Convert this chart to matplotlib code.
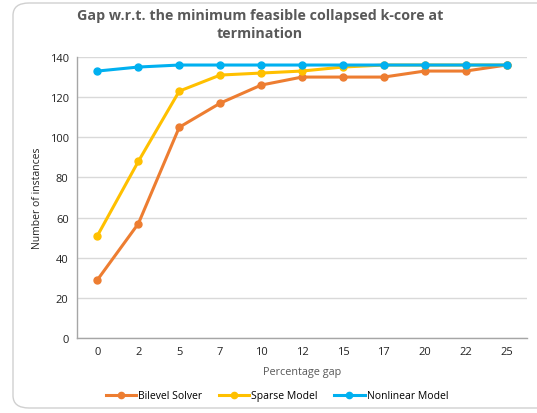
import matplotlib
matplotlib.use("Agg")
import matplotlib.pyplot as plt
from matplotlib.patches import FancyBboxPatch

gaps = ["0", "2", "5", "7", "10", "12", "15", "17", "20", "22", "25"]
bilevel = [29, 57, 105, 117, 126, 130, 130, 130, 133, 133, 136]
sparse = [51, 88, 123, 131, 132, 133, 135, 136, 136, 136, 136]
nonlinear = [133, 135, 136, 136, 136, 136, 136, 136, 136, 136, 136]

series = [
    ("Bilevel Solver", bilevel, "#ED7D31"),
    ("Sparse Model", sparse, "#FFC000"),
    ("Nonlinear Model", nonlinear, "#00B0F0"),
]

plt.rcParams["font.family"] = ["Open Sans", "DejaVu Sans"]

W, H = 537, 414
fig = plt.figure(figsize=(W / 100, H / 100), dpi=100)

# rounded chart frame
frame = FancyBboxPatch((13 / W, 5 / H), 540 / W, 405 / H,
                       boxstyle="round,pad=0,rounding_size=0.03",
                       transform=fig.transFigure, facecolor="white",
                       edgecolor="#d0d0d0", linewidth=1.0, zorder=-10)
fig.patches.append(frame)

ax = fig.add_axes([77 / W, (H - 339) / H, (527 - 77) / W, (339 - 58) / H])
ax.set_facecolor("none")

x = list(range(len(gaps)))
for name, vals, col in series:
    ax.plot(x, vals, color=col, linewidth=2.2, marker="o", markersize=5,
            label=name, zorder=3)

ax.set_xlim(-0.5, len(gaps) - 0.5)
ax.set_ylim(0, 140)
ax.set_yticks(range(0, 141, 20))
ax.set_xticks(x)
ax.set_xticklabels(gaps)
ax.grid(axis="y", color="#d9d9d9", linewidth=1.0, zorder=0)
ax.tick_params(length=0, labelsize=8, colors="#222222", pad=6)
for s in ("top", "right"):
    ax.spines[s].set_visible(False)
for s in ("left", "bottom"):
    ax.spines[s].set_color("#a6a6a6")
    ax.spines[s].set_linewidth(1.0)

ax.set_xlabel("Percentage gap", fontsize=7.8, color="#595959", labelpad=6)
ax.set_ylabel("Number of instances", fontsize=7.5, color="#222222", labelpad=5)

fig.text(260 / W, (H - 16) / H, "Gap w.r.t. the minimum feasible collapsed k-core at",
         ha="center", va="center", fontsize=10.3, fontweight="bold", color="#595959")
fig.text(260 / W, (H - 34) / H, "termination",
         ha="center", va="center", fontsize=10.3, fontweight="bold", color="#595959")

fig.legend(loc="center", bbox_to_anchor=(277 / W, (H - 397) / H), ncol=3,
           frameon=False, fontsize=7.5, handlelength=2.9, columnspacing=1.6,
           handletextpad=0.2, markerscale=0.9)

fig.savefig("out.png", dpi=100)
